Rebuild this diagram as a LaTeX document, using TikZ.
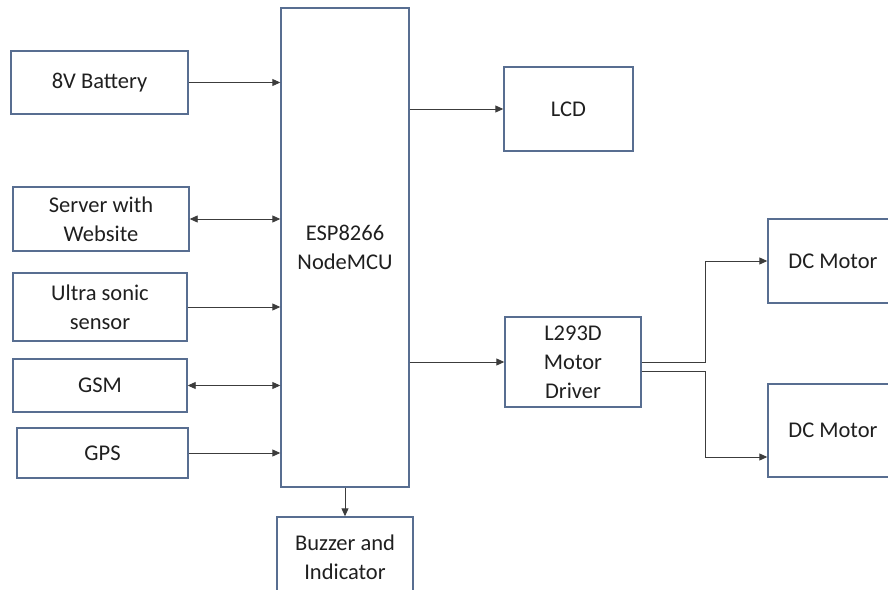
\documentclass[tikz,border=0pt]{standalone}
\usepackage{fontspec}
\setmainfont{Carlito}
\usepackage{xcolor}
\usetikzlibrary{positioning,arrows.meta,calc}
\definecolor{boxline}{RGB}{88,110,145}
\definecolor{wire}{RGB}{60,60,60}

\begin{document}
\begin{tikzpicture}[x=1pt, y=-1pt, >={Triangle[length=8pt,width=7pt]},
  every node/.style={font=\fontsize{22.5}{29}\selectfont, text=black!88},
  box/.style={draw=boxline, line width=1.4pt, inner sep=0pt, align=center},
  link/.style={draw=wire, line width=0.9pt}]

  \useasboundingbox (0,0) rectangle (888,589);

  %% ─── Inputs (left column) ─────────────────────────────────────────────
  \node[box, minimum width=177pt, minimum height=63pt] (bat) at (99.5, 82.5)  {8V Battery};
  \node[box, minimum width=176pt, minimum height=64pt] (srv) at (101, 219)    {Server with\\Website};
  \node[box, minimum width=174pt, minimum height=68pt] (ult) at (100, 307)    {Ultra sonic\\sensor};
  \node[box, minimum width=174pt, minimum height=53pt] (gsm) at (100, 385.5)  {GSM};
  \node[box, minimum width=171pt, minimum height=50pt] (gps) at (102.5, 453)  {GPS};

  %% ─── Controller ────────────────────────────────────────────────────────
  \node[box, minimum width=128pt, minimum height=479pt] (esp) at (345, 247.5)
    {ESP8266\\NodeMCU};
  \node[box, minimum width=136pt, minimum height=80pt]  (buz) at (345, 557)
    {Buzzer and\\Indicator};

  %% ─── Outputs (right) ───────────────────────────────────────────────────
  \node[box, minimum width=129pt, minimum height=84pt] (lcd)  at (568.5, 109) {LCD};
  \node[box, minimum width=136pt, minimum height=90pt] (drv)  at (573, 362)   {L293D\\Motor\\Driver};
  \node[box, minimum width=130pt, minimum height=84pt] (mot1) at (833, 261)   {DC Motor};
  \node[box, minimum width=130pt, minimum height=93pt] (mot2) at (833, 430.5) {DC Motor};
  \coordinate (split) at (705, 362);
  \coordinate (drvlow) at ([yshift=-9pt]drv.east);
  \coordinate (mot2in) at ([yshift=-26.5pt]mot2.west);

  %% ─── Connections ───────────────────────────────────────────────────────
  \draw[link, ->]  (bat.east) -- (bat.east -| esp.west);
  \draw[link, <->] (srv.east) -- (srv.east -| esp.west);
  \draw[link, ->]  (ult.east) -- (ult.east -| esp.west);
  \draw[link, <->] (gsm.east) -- (gsm.east -| esp.west);
  \draw[link, ->]  (gps.east) -- (gps.east -| esp.west);
  \draw[link, ->]  (esp.east |- lcd.west) -- (lcd.west);
  \draw[link, ->]  (esp.east |- drv.west) -- (drv.west);
  \draw[link, ->]  (esp.south) -- (buz.north);
  \draw[link, ->]  (drv.east) -- (split) |- (mot1.west);
  \draw[link, ->]  (drvlow) -| (split |- mot2in) -- (mot2in);
\end{tikzpicture}
\end{document}
